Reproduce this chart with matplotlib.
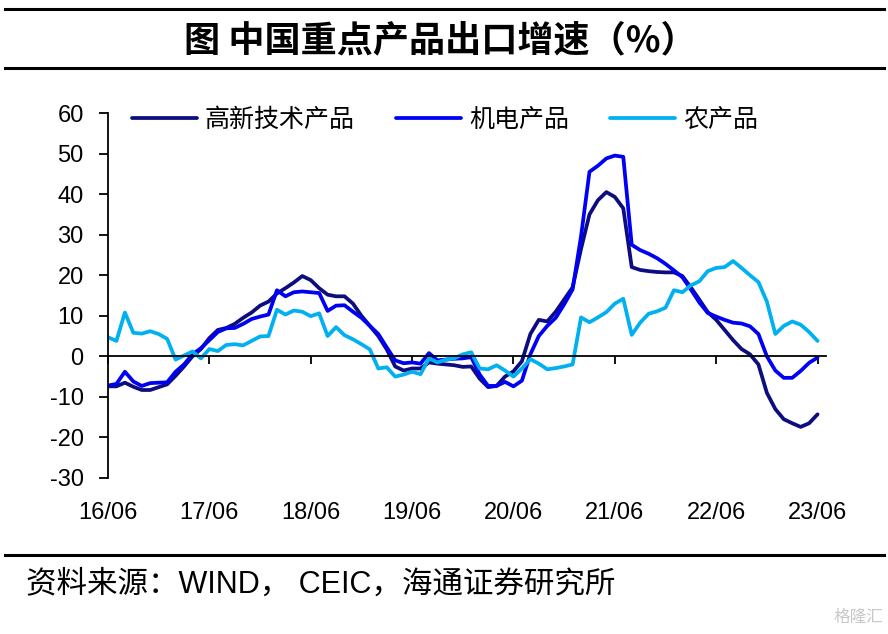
import matplotlib
matplotlib.use("Agg")
import matplotlib.pyplot as plt
from matplotlib.lines import Line2D

plt.rcParams["font.family"] = ["Noto Sans CJK SC", "DejaVu Sans"]
plt.rcParams["axes.unicode_minus"] = False

# monthly, 2016-06 .. 2023-06
tick_labels = ["16/06", "17/06", "18/06", "19/06", "20/06", "21/06", "22/06", "23/06"]
series_names = ["高新技术产品", "机电产品", "农产品"]

hightech = [-7.4, -7.4, -6.5, -7.5, -8.3, -8.3, -7.6, -6.9, -4.8, -2.5,
            0.0, 1.8, 4.5, 6.5, 7.0, 8.0, 9.5, 10.8, 12.5, 13.5,
            15.5, 16.8, 18.2, 19.8, 18.8, 16.8, 15.2, 14.8, 14.8, 13.0,
            10.0, 7.5, 5.0, 1.7, -2.5, -3.5, -3.0, -3.0, -1.5, -1.8,
            -2.0, -2.2, -2.6, -2.5, -5.5, -7.6, -7.3, -5.0, -3.7, -1.2,
            5.5, 9.0, 8.6, 11.0, 14.0, 17.0, 26.5, 35.0, 38.5, 40.5,
            39.3, 36.5, 22.0, 21.3, 21.0, 20.8, 20.7, 20.7, 19.8, 17.0,
            14.0, 10.9, 9.0, 6.5, 4.0, 1.8, 0.5, -2.0, -9.0, -13.0,
            -15.5, -16.5, -17.4, -16.5, -14.3]

electro = [-7.2, -6.8, -3.8, -6.2, -7.3, -6.6, -6.5, -6.4, -3.8, -2.0,
           0.5, 2.0, 4.0, 6.0, 6.9, 7.0, 8.0, 9.2, 9.8, 10.3,
           16.3, 14.8, 15.8, 16.0, 15.8, 15.6, 11.2, 12.5, 12.6, 11.0,
           9.5, 7.5, 5.5, 2.2, -1.0, -1.7, -1.5, -1.8, 0.8, -1.0,
           -0.8, -0.6, -0.5, -0.2, -4.5, -7.3, -7.3, -6.3, -7.4, -6.0,
           0.5, 5.0, 7.5, 9.5, 12.8, 16.5, 29.6, 45.5, 47.0, 48.8,
           49.5, 49.2, 27.5, 26.2, 25.3, 24.2, 22.8, 21.2, 19.5, 16.5,
           13.3, 10.7, 9.8, 9.0, 8.3, 8.1, 7.4, 5.5, 0.0, -3.5,
           -5.3, -5.3, -3.6, -1.6, -0.3]

agri = [4.7, 3.8, 10.8, 5.8, 5.6, 6.2, 5.5, 4.3, -0.8, 0.2,
        1.2, -0.5, 1.8, 1.3, 2.8, 3.0, 2.7, 3.8, 4.9, 5.0,
        11.5, 10.3, 11.3, 11.0, 9.9, 10.6, 5.0, 7.2, 5.2, 4.2,
        3.0, 1.7, -3.0, -2.7, -5.0, -4.5, -3.8, -4.4, -0.5, -1.5,
        -0.8, -0.5, 0.5, 1.0, -3.0, -3.2, -2.2, -3.5, -5.0, -3.0,
        -0.7, -1.8, -3.2, -2.9, -2.5, -2.0, 9.6, 8.4, 9.6, 10.9,
        13.0, 14.2, 5.3, 8.3, 10.5, 11.1, 12.0, 16.3, 15.8, 17.5,
        18.5, 21.0, 21.8, 22.0, 23.5, 21.8, 20.0, 18.3, 13.5, 5.5,
        7.5, 8.6, 7.8, 6.0, 3.8]

colors = ["#0D0D80", "#0000F5", "#00B0F0"]

fig = plt.figure(figsize=(8.88, 6.34), dpi=100)
ax = fig.add_axes([108 / 888, 1 - 478 / 634, 718 / 888, 365 / 634])

x = list(range(len(hightech)))
for data, name, c in zip([hightech, electro, agri], series_names, colors):
    ax.plot(x, data, color=c, lw=2.7, label=name, solid_joinstyle="round",
            solid_capstyle="round")

ax.set_xlim(0, 85)
ax.set_ylim(-30, 60)
ax.set_yticks(range(-30, 61, 10))
ax.set_xticks(range(0, 85, 12))
ax.set_xticklabels(tick_labels)

for s in ["top", "right"]:
    ax.spines[s].set_visible(False)
ax.spines["bottom"].set_position(("data", 0))
ax.spines["bottom"].set_linewidth(1.3)
ax.spines["left"].set_linewidth(1.3)

ax.tick_params(axis="y", direction="out", length=6.5, width=1.3, pad=11)
ax.tick_params(axis="x", direction="out", length=6, width=1.3, pad=99)
for lab in ax.get_xticklabels() + ax.get_yticklabels():
    lab.set_family(["Liberation Sans", "DejaVu Sans"])
    lab.set_fontsize(17)

ax.legend(loc="center left", bbox_to_anchor=(0.0334, 0.981), ncol=3,
          frameon=False, fontsize=18, handlelength=2.6, handletextpad=0.32,
          columnspacing=1.65, borderpad=0, borderaxespad=0)

# rules and texts around the chart
for yy in [9, 68, 555]:
    fig.add_artist(Line2D([5 / 888, 884 / 888], [1 - yy / 634] * 2,
                          transform=fig.transFigure, color="black", lw=2.2))

fig.text(0.496, 1 - 41 / 634, "图 中国重点产品出口增速（%）", ha="center",
         va="center", fontsize=26, fontweight="bold")
fig.text(26 / 888, 1 - 585 / 634, "资料来源：WIND， CEIC，海通证券研究所",
         ha="left", va="center", fontsize=22,
         family=["Liberation Sans", "Noto Sans CJK SC"])
fig.text(0.995, 1 - 617 / 634, "格隆汇", ha="right", va="center",
         fontsize=12, color="#c8c8c8")

fig.savefig("out.png", dpi=100)
